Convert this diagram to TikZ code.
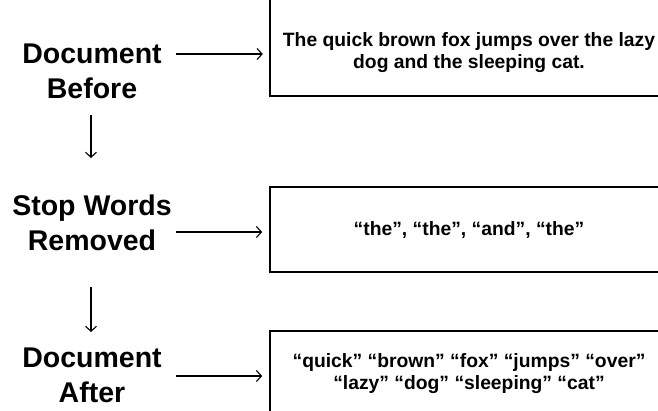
\documentclass[tikz,border=0pt]{standalone}
\usepackage{fontspec}
\setmainfont{Liberation Sans}
\usetikzlibrary{arrows.meta}
\begin{document}
\begin{tikzpicture}[x=1pt,y=-1pt,
  lab/.style={align=center,font=\fontsize{28.5}{35}\selectfont\bfseries,inner sep=0pt},
  boxtext/.style={minimum width=398pt,minimum height=85pt,align=center,
    font=\fontsize{19.3}{22}\selectfont\bfseries,inner sep=0pt},
  box/.style={boxtext,draw,line width=1.6pt},
  boxline/.style={line width=1.6pt},
  arr/.style={line width=1.1pt,-{Straight Barb[length=5pt,width=11pt]}}]
\useasboundingbox (0,0) rectangle (658,410);
% labels
\node[lab] (l1) at (92,71) {Document\\Before};
\node[lab] (l2) at (92,222.5) {Stop Words\\Removed};
\node[lab] (l3) at (92,375.5) {Document\\After};
% boxes
\node[boxtext] (b1) at (469,53) {The quick brown fox jumps over the lazy\\dog and the sleeping cat.};
\draw[boxline] ([yshift=20pt]b1.north west) rectangle (b1.south east);
\node[box] (b2) at (469,229.5) {“the”, “the”, “and”, “the”};
\node[box] (b3) at (469,373.5) {“quick” “brown” “fox” “jumps” “over”\\“lazy” “dog” “sleeping” “cat”};
% arrow anchors
\coordinate (h1) at (176,54);
\coordinate (h2) at (176,232);
\coordinate (h3) at (176,376);
\coordinate (d1s) at (91,115);
\coordinate (d1e) at (91,158);
\coordinate (d2s) at (91,287);
\coordinate (d2e) at (91,332);
% connectors
\draw[arr,shorten >=7pt] (h1) -- (h1 -| b1.west);
\draw[arr,shorten >=7pt] (h2) -- (h2 -| b2.west);
\draw[arr,shorten >=7pt] (h3) -- (h3 -| b3.west);
\draw[arr] (d1s) -- (d1e);
\draw[arr] (d2s) -- (d2e);
\end{tikzpicture}
\end{document}
